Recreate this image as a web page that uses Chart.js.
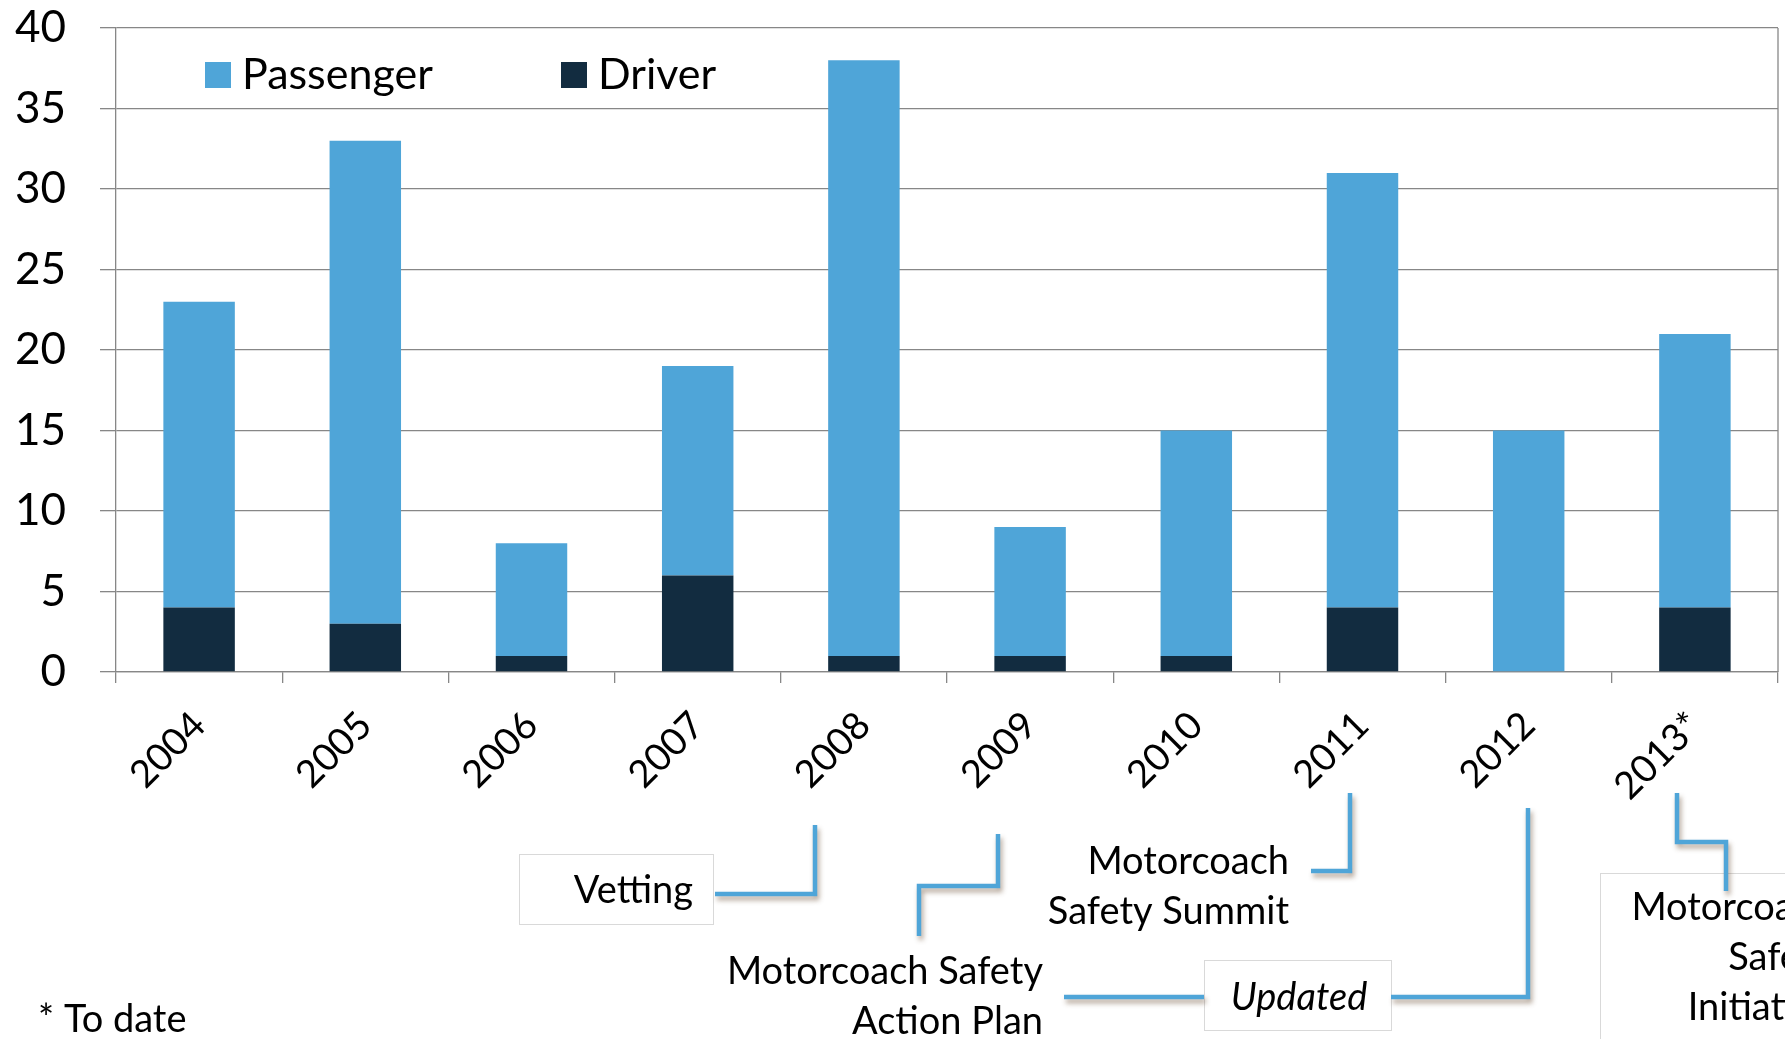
<!DOCTYPE html>
<html>
<head>
<meta charset="utf-8">
<script src="https://cdn.jsdelivr.net/npm/chart.js"></script>
<style>
  html, body { margin: 0; padding: 0; background: #fff; }
  #wrap { width: 1785px; height: 1039px; position: relative; }
</style>
</head>
<body>
<div id="wrap"><canvas id="c" width="1785" height="1039"></canvas></div>
<script>
// data
const years = ['2004', '2005', '2006', '2007', '2008', '2009', '2010', '2011', '2012', '2013*'];
const driverDeaths = [4, 3, 1, 6, 1, 1, 1, 4, 0, 4];
const passengerDeaths = [19, 30, 7, 13, 37, 8, 14, 27, 15, 17];
const yMin = 0, yMax = 40, yStep = 5;

const PASSENGER_BLUE = '#4FA5D8';
const DRIVER_NAVY = '#122C40';
const GRID = '#878787';
const FONT = 'Lato, "Open Sans", sans-serif';

// legend drawn inside the plot, Passenger first
const insideLegend = {
    id: 'insideLegend',
    afterDraw(chart) {
        const ctx = chart.ctx;
        const order = [{ ds: chart.data.datasets[1], x: 205 }, { ds: chart.data.datasets[0], x: 561 }];
        ctx.save();
        ctx.font = `43px ${FONT}`;
        ctx.textBaseline = 'middle';
        order.forEach(it => {
            ctx.fillStyle = it.ds.backgroundColor;
            ctx.fillRect(it.x, 62, 26, 26);
            ctx.fillStyle = '#000';
            ctx.fillText(it.ds.label, it.x + 37, 75);
        });
        ctx.restore();
    }
};

// timeline notes under the axis
const noteBoxes = [
    [519, 854, 194, 70],
    [1204, 960, 187, 70],
    [1600, 873, 300, 220]
];
const noteLinks = [
    [[715, 894], [815, 894], [815, 825]],
    [[998, 834], [998, 886], [919, 886], [919, 936]],
    [[1311, 871], [1350, 871], [1350, 793]],
    [[1064, 997], [1204, 997]],
    [[1391, 997], [1528, 997], [1528, 808]],
    [[1677, 793], [1677, 842], [1726, 842], [1726, 891]]
];
const noteTexts = [
    { t: 'Vetting', x: 693, y: 891, a: 'right' },
    { t: 'Motorcoach Safety', x: 1043, y: 972, a: 'right' },
    { t: 'Action Plan', x: 1043, y: 1022, a: 'right' },
    { t: 'Motorcoach', x: 1289, y: 862, a: 'right' },
    { t: 'Safety Summit', x: 1289, y: 912, a: 'right' },
    { t: 'Updated', x: 1299, y: 998, a: 'center', italic: true },
    { t: 'Motorcoach', x: 1833, y: 908, a: 'right' },
    { t: 'Safety', x: 1833, y: 958, a: 'right' },
    { t: 'Initiative', x: 1833, y: 1008, a: 'right' },
    { t: '* To date', x: 38, y: 1020, a: 'left' }
];

const notesPlugin = {
    id: 'notes',
    afterDraw(chart) {
        const ctx = chart.ctx;
        const area = chart.chartArea;
        ctx.save();
        // right edge of the plot
        ctx.strokeStyle = GRID;
        ctx.lineWidth = 1.3;
        ctx.beginPath();
        ctx.moveTo(area.right, area.top);
        ctx.lineTo(area.right, area.bottom);
        ctx.stroke();

        noteBoxes.forEach(b => {
            ctx.fillStyle = '#fff';
            ctx.fillRect(b[0], b[1], b[2], b[3]);
            ctx.strokeStyle = '#d9d9d9';
            ctx.lineWidth = 1;
            ctx.strokeRect(b[0] + 0.5, b[1] + 0.5, b[2], b[3]);
        });

        ctx.strokeStyle = PASSENGER_BLUE;
        ctx.lineWidth = 4.5;
        ctx.lineJoin = 'miter';
        ctx.shadowColor = 'rgba(90, 60, 30, 0.45)';
        ctx.shadowOffsetX = 2;
        ctx.shadowOffsetY = 4;
        ctx.shadowBlur = 5;
        noteLinks.forEach(pts => {
            ctx.beginPath();
            ctx.moveTo(pts[0][0], pts[0][1]);
            pts.slice(1).forEach(p => ctx.lineTo(p[0], p[1]));
            ctx.stroke();
        });
        ctx.shadowColor = 'transparent';

        ctx.fillStyle = '#000';
        ctx.textBaseline = 'middle';
        noteTexts.forEach(n => {
            ctx.font = `${n.italic ? 'italic ' : ''}38px ${FONT}`;
            ctx.textAlign = n.a;
            ctx.fillText(n.t, n.x, n.y);
        });
        ctx.restore();
    }
};

new Chart(document.getElementById('c'), {
    type: 'bar',
    data: {
        labels: years,
        datasets: [
            { label: 'Driver', data: driverDeaths, backgroundColor: DRIVER_NAVY },
            { label: 'Passenger', data: passengerDeaths, backgroundColor: PASSENGER_BLUE }
        ]
    },
    options: {
        responsive: false,
        animation: false,
        layout: { padding: { top: 28, right: 7, bottom: 237, left: 0 } },
        datasets: { bar: { categoryPercentage: 0.43, barPercentage: 1 } },
        plugins: { legend: { display: false }, tooltip: { enabled: false } },
        scales: {
            x: {
                stacked: true,
                grid: { offset: true, drawOnChartArea: false, tickColor: GRID, tickLength: 11, lineWidth: 1.3 },
                border: { color: GRID, width: 1.3 },
                ticks: {
                    color: '#000', font: { family: FONT, size: 38 },
                    minRotation: 45, maxRotation: 45, autoSkip: false, padding: 20
                },
                afterFit: s => { s.height = 130; }
            },
            y: {
                stacked: true,
                min: yMin, max: yMax,
                ticks: { stepSize: yStep, color: '#000', font: { family: FONT, size: 44 }, padding: 34 },
                grid: { color: GRID, tickLength: 16, lineWidth: 1.3 },
                border: { color: GRID, width: 1.3 },
                afterFit: s => { s.width = 116; s.paddingTop = 0; s.paddingBottom = 0; }
            }
        }
    },
    plugins: [insideLegend, notesPlugin]
});
</script>
</body>
</html>
